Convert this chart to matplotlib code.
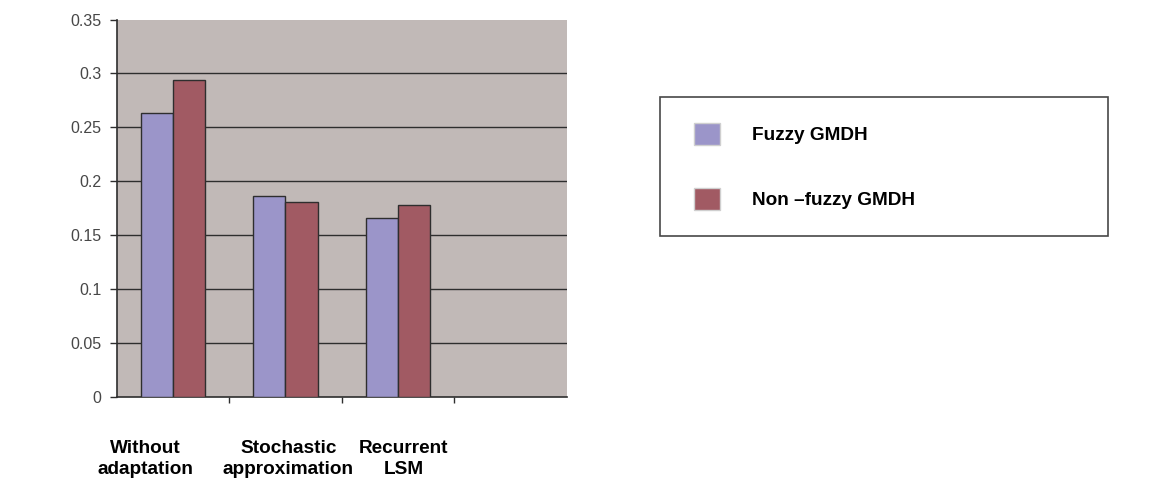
import numpy as np
import matplotlib
matplotlib.use("Agg")
import matplotlib.pyplot as plt
from matplotlib.patches import Patch, Rectangle
from matplotlib.legend_handler import HandlerPatch
from matplotlib.transforms import ScaledTranslation

# data
categories = ["Without\nadaptation", "Stochastic\napproximation", "Recurrent\nLSM"]
fuzzy = [0.263, 0.186, 0.166]
non_fuzzy = [0.294, 0.181, 0.178]
series_names = ["Fuzzy GMDH", "Non \u2013fuzzy GMDH"]
yticks = [0, 0.05, 0.1, 0.15, 0.2, 0.25, 0.3, 0.35]
ytick_labels = ["0", "0.05", "0.1", "0.15", "0.2", "0.25", "0.3", "0.35"]

plt.rcParams["font.family"] = ["Liberation Sans", "DejaVu Sans"]

col_fuzzy = "#9b95c9"
col_non = "#a15a63"
bg = "#c1b9b7"
dark = "#2e2e2e"

fig = plt.figure(figsize=(11.66, 4.86), dpi=100)
ax = fig.add_axes([0.1001, 0.1837, 0.3859, 0.776])
ax.set_facecolor(bg)

x = np.arange(len(categories))
w = 0.285
ax.bar(x - w / 2, fuzzy, w, color=col_fuzzy, edgecolor=dark, linewidth=1.0, zorder=3)
ax.bar(x + w / 2, non_fuzzy, w, color=col_non, edgecolor=dark, linewidth=1.0, zorder=3)

ax.set_xlim(-0.5, 3.5)
ax.set_ylim(0, 0.35)

# horizontal grid lines (none on the top edge)
for v in yticks[1:-1]:
    ax.axhline(v, color=dark, linewidth=1.0, zorder=1)

ax.set_yticks(yticks)
ax.set_yticklabels(ytick_labels)
ax.tick_params(axis="y", length=5, width=1.0, color=dark, pad=6,
               labelsize=11.5, labelcolor="#474747")

# slot separators as tick marks, category names as minor labels
ax.set_xticks([0.5, 1.5, 2.5])
ax.set_xticklabels([])
ax.tick_params(axis="x", which="major", length=4, width=1.0, color=dark)
ax.set_xticks(x, minor=True)
ax.set_xticklabels(categories, minor=True, fontsize=13.7, fontweight="bold",
                   linespacing=1.35)
ax.tick_params(axis="x", which="minor", length=0, pad=31)
nudges = [-28, 3, 6]
for lab, dx in zip(ax.get_xticklabels(minor=True), nudges):
    lab.set_transform(lab.get_transform() + ScaledTranslation(dx / 100, 0, fig.dpi_scale_trans))

for s in ["top", "right"]:
    ax.spines[s].set_visible(False)
for s in ["left", "bottom"]:
    ax.spines[s].set_color(dark)
    ax.spines[s].set_linewidth(1.2)


# legend swatch drawn with a small gap on its left
def swatch(legend, orig_handle, xdescent, ydescent, width, height, fontsize):
    gap = 6
    return Rectangle((-xdescent + gap, -ydescent), width - gap, height)


handles = [Patch(facecolor=col_fuzzy, edgecolor="#cfcfcf", linewidth=1.0),
           Patch(facecolor=col_non, edgecolor="#cfcfcf", linewidth=1.0)]
leg = fig.legend(handles, series_names, loc="upper left",
                 bbox_to_anchor=(660 / 1166, 1 - 97 / 486, 448 / 1166, 0),
                 mode="expand", frameon=True, fancybox=False,
                 prop={"size": 13.7, "weight": "bold"},
                 handler_map={Patch: HandlerPatch(patch_func=swatch)},
                 handlelength=1.8, handleheight=1.4, handletextpad=1.67,
                 labelspacing=2.25, borderpad=1.36, borderaxespad=0)
leg.get_frame().set_edgecolor("#1a1a1a")
leg.get_frame().set_linewidth(1.2)

fig.savefig("out.png", dpi=100, facecolor="white")
